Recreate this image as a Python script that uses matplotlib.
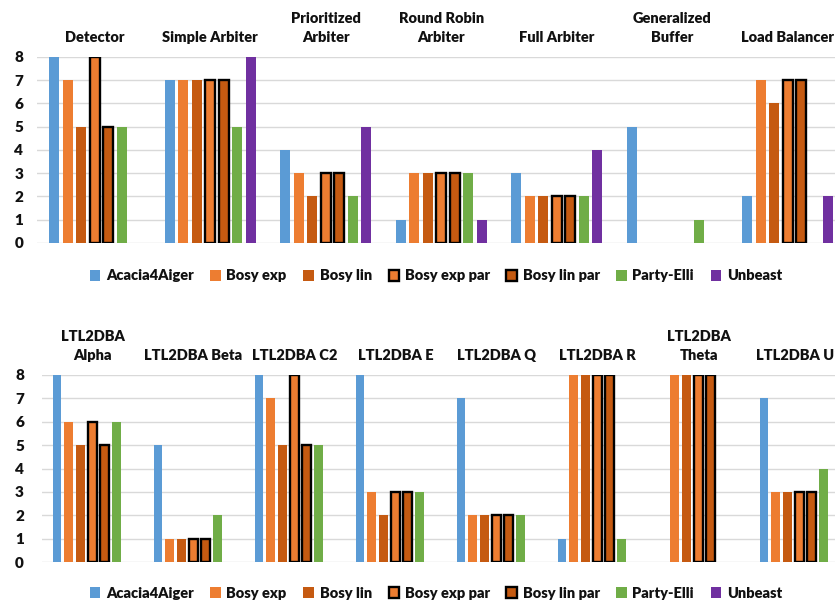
import numpy as np
import matplotlib
matplotlib.use("Agg")
import matplotlib.pyplot as plt
from matplotlib.patches import Patch

nan = np.nan

# series names and colours
series = ["Acacia4Aiger", "Bosy exp", "Bosy lin", "Bosy exp par",
          "Bosy lin par", "Party-Elli", "Unbeast"]
colors = ["#5B9BD5", "#ED7D31", "#C55A11", "#ED7D31",
          "#C55A11", "#70AD47", "#7030A0"]
edged = [False, False, False, True, True, False, False]

# top panel: arbiters etc.
top_cats = ["Detector", "Simple Arbiter", "Prioritized\nArbiter", "Round Robin\nArbiter",
            "Full Arbiter", "Generalized\nBuffer", "Load Balancer"]
top_acacia = [8, 7, 4, 1, 3, 5, 2]
top_bosy_exp = [7, 7, 3, 3, 2, nan, 7]
top_bosy_lin = [5, 7, 2, 3, 2, nan, 6]
top_bosy_exp_par = [8, 7, 3, 3, 2, nan, 7]
top_bosy_lin_par = [5, 7, 3, 3, 2, nan, 7]
top_party_elli = [5, 5, 2, 3, 2, 1, nan]
top_unbeast = [nan, 8, 5, 1, 4, nan, 2]

# bottom panel: LTL2DBA
bot_cats = ["LTL2DBA\nAlpha", "LTL2DBA Beta", "LTL2DBA C2", "LTL2DBA E",
            "LTL2DBA Q", "LTL2DBA R", "LTL2DBA\nTheta", "LTL2DBA U1"]
bot_acacia = [8, 5, 8, 8, 7, 1, nan, 7]
bot_bosy_exp = [6, 1, 7, 3, 2, 8, 8, 3]
bot_bosy_lin = [5, 1, 5, 2, 2, 8, 8, 3]
bot_bosy_exp_par = [6, 1, 8, 3, 2, 8, 8, 3]
bot_bosy_lin_par = [5, 1, 5, 3, 2, 8, 8, 3]
bot_party_elli = [6, 2, 5, 3, 2, 1, nan, 4]
bot_unbeast = [nan, nan, nan, nan, nan, nan, nan, nan]

top_data = [top_acacia, top_bosy_exp, top_bosy_lin, top_bosy_exp_par,
            top_bosy_lin_par, top_party_elli, top_unbeast]
bot_data = [bot_acacia, bot_bosy_exp, bot_bosy_lin, bot_bosy_exp_par,
            bot_bosy_lin_par, bot_party_elli, bot_unbeast]

plt.rcParams["font.family"] = ["Lato", "DejaVu Sans"]
plt.rcParams["font.weight"] = "heavy"
TXT = "#111111"

W, H = 835, 602
fig = plt.figure(figsize=(W / 100, H / 100), dpi=100)

SLOT = 0.117
BW = 0.088


def panel(rect, cats, data, ypad):
    ax = fig.add_axes(rect)
    x = np.arange(len(cats))
    for k, vals in enumerate(data):
        off = (k - 3) * SLOT
        if edged[k]:
            ax.bar(x + off, vals, BW, color=colors[k], edgecolor="black",
                   linewidth=1.7, zorder=3)
        else:
            ax.bar(x + off, vals, BW, color=colors[k], linewidth=0, zorder=3)
    ax.set_xlim(-0.5, len(cats) - 0.5)
    ax.set_ylim(0, 8)
    ax.set_yticks(range(0, 9))
    ax.yaxis.grid(True, color="#d9d9d9", lw=1.0, zorder=0)
    ax.set_axisbelow(True)
    ax.xaxis.tick_top()
    ax.set_xticks(x)
    ax.set_xticklabels(cats, fontsize=10.5, fontweight="heavy", color=TXT,
                       multialignment="center", linespacing=1.6)
    ax.tick_params(axis="x", length=0, pad=9)
    ax.tick_params(axis="y", length=0, pad=ypad, labelsize=11, labelcolor=TXT)
    for s in ax.spines.values():
        s.set_visible(False)
    return ax


ax1 = panel([37 / W, 1 - 243 / H, 808.5 / W, 186 / H], top_cats, top_data, 10)
ax2 = panel([42 / W, 1 - 562 / H, 808 / W, 187 / H], bot_cats, bot_data, 13)

handles = []
for k, name in enumerate(series):
    if edged[k]:
        handles.append(Patch(facecolor=colors[k], edgecolor="black", linewidth=1.7, label=name))
    else:
        handles.append(Patch(facecolor=colors[k], edgecolor="none", label=name))

for yc in (276, 593):
    fig.legend(handles=handles, loc="center", bbox_to_anchor=(436 / W, 1 - yc / H),
               ncol=7, frameon=False, fontsize=10.5, handlelength=0.7,
               handleheight=0.7, handletextpad=0.4, columnspacing=1.15,
               labelcolor=TXT)

fig.savefig("out.png", dpi=100)
